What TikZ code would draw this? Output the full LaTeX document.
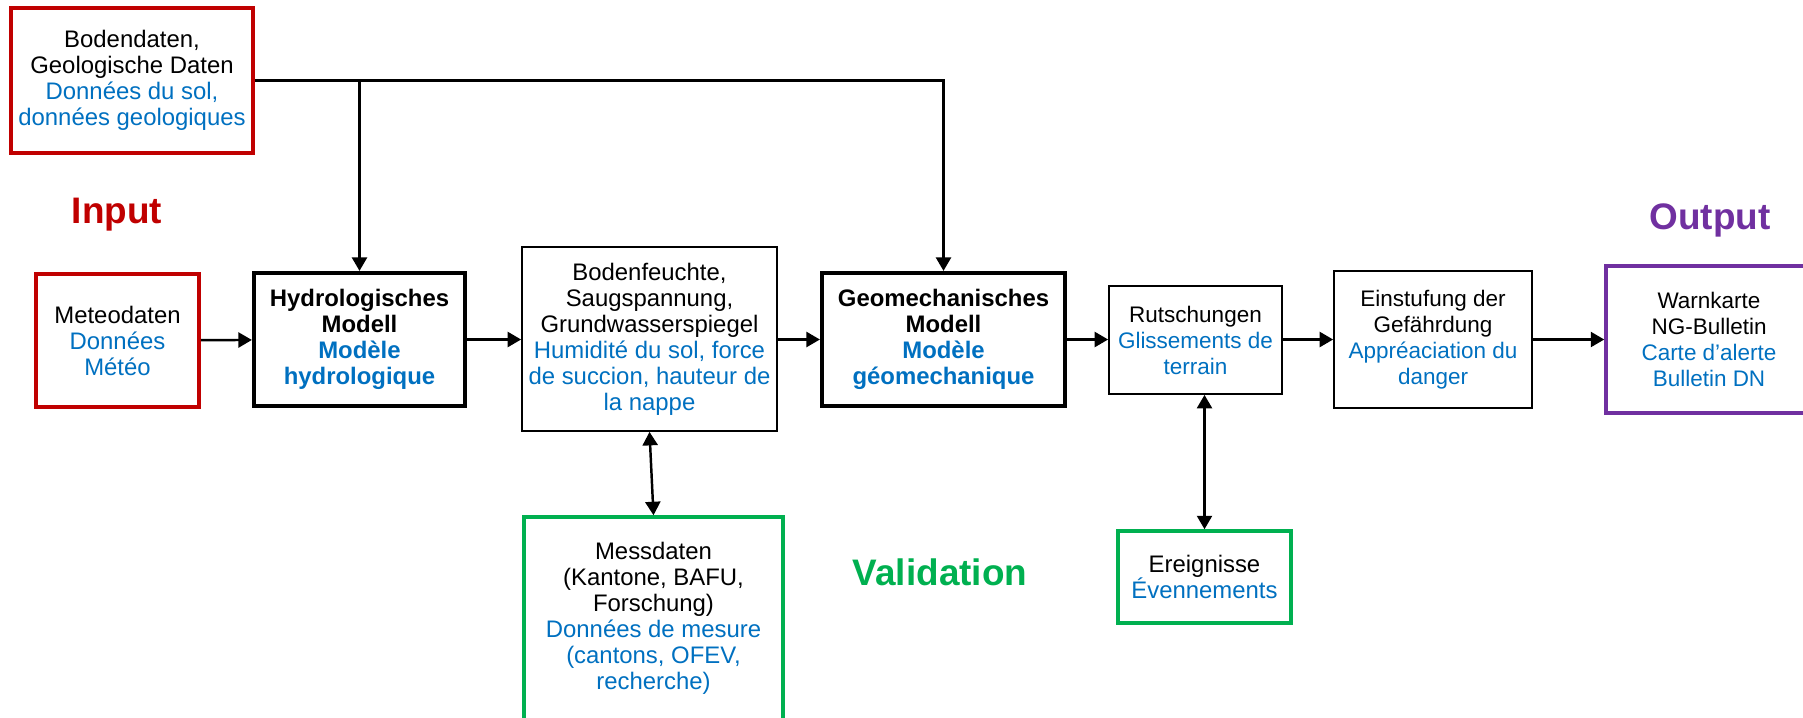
\documentclass[tikz,border=0pt]{standalone}
\usepackage{fontspec}
\setmainfont{Liberation Sans}
\usepackage{tikz}
\usetikzlibrary{arrows.meta,positioning}
\definecolor{inred}{HTML}{C00000}
\definecolor{frblue}{HTML}{0070C0}
\definecolor{valgreen}{HTML}{00B050}
\definecolor{outpurple}{HTML}{7030A0}

\begin{document}
\begin{tikzpicture}[
		box/.style={rectangle, draw, line width=1pt, align=center, inner sep=1pt, font=\fontsize{13.6}{14.8}\selectfont},
		smallbox/.style={box, font=\fontsize{12.8}{14.8}\selectfont},
		inbox/.style={box, draw=inred, line width=2pt},
		modell/.style={box, line width=2.4pt, font=\fontsize{13.6}{14.8}\selectfont\bfseries},
		valbox/.style={box, draw=valgreen, line width=2pt},
		outbox/.style={smallbox, draw=outpurple, line width=2pt},
		titel/.style={font=\fontsize{21}{25}\selectfont\bfseries},
		->, >={Triangle[length=0.27cm,width=0.30cm]}, line width=1.4pt
		]
	
		\useasboundingbox (0,0) rectangle (36.06,-14.34);
	
		% Eingaben
		\node[inbox, minimum width=4.84cm, minimum height=2.90cm] (boden) at (2.64,-1.61) {Bodendaten,\\Geologische Daten\\\color{frblue}Données du sol,\\\color{frblue}données geologiques};
		\node[titel, text=inred] (input) at (2.34,-4.30) {Input};
		\node[inbox, minimum width=3.26cm, minimum height=2.66cm] (meteo) at (2.35,-6.81) {Meteodaten\\\color{frblue}Données\\\color{frblue}Météo};
	
		% Modellkette
		\node[modell, minimum width=4.22cm, minimum height=2.66cm] (hydro) at (7.19,-6.79) {Hydrologisches\\Modell\\\color{frblue}Modèle\\\color{frblue}hydrologique};
		\node[box, minimum width=5.10cm, minimum height=3.68cm] (feuchte) at (12.99,-6.78) {Bodenfeuchte,\\Saugspannung,\\Grundwasserspiegel\\\color{frblue}Humidité du sol, force\\\color{frblue}de succion, hauteur de\\\color{frblue}la nappe};
		\node[modell, minimum width=4.86cm, minimum height=2.66cm] (geo) at (18.87,-6.79) {Geomechanisches\\Modell\\\color{frblue}Modèle\\\color{frblue}géomechanique};
		\node[smallbox, minimum width=3.46cm, minimum height=2.16cm] (rutsch) at (23.91,-6.80) {Rutschungen\\\color{frblue}Glissements de\\\color{frblue}terrain};
		\node[smallbox, minimum width=3.96cm, minimum height=2.74cm] (einst) at (28.66,-6.79) {Einstufung der\\Gefährdung\\\color{frblue}Appréaciation du\\\color{frblue}danger};
	
		% Ausgabe
		\node[titel, text=outpurple] (output) at (34.20,-4.40) {Output};
		\node[outbox, minimum width=4.12cm, minimum height=2.94cm] (warn) at (34.18,-6.79) {Warnkarte\\NG-Bulletin\\\color{frblue}Carte d’alerte\\\color{frblue}Bulletin DN};
	
		% Validierung
		\node[valbox, minimum width=5.18cm, minimum height=4.06cm] (mess) at (13.07,-12.37) {Messdaten\\(Kantone, BAFU,\\Forschung)\\\color{frblue}Données de mesure\\\color{frblue}(cantons, OFEV,\\\color{frblue}recherche)};
		\node[titel, text=valgreen] (valid) at (18.80,-11.44) {Validation};
		\node[valbox, minimum width=3.46cm, minimum height=1.84cm] (ereig) at (24.09,-11.54) {Ereignisse\\\color{frblue}Évennements};
	
		\coordinate (split) at (hydro.north |- boden.east);
	
		\draw (boden.east) -| (geo.north);
		\draw (split) -- (hydro.north);
		\draw (meteo) -- (hydro);
		\draw (hydro) -- (feuchte.west |- hydro.east);
		\draw (feuchte.east |- geo.west) -- (geo);
		\draw (geo) -- (rutsch.west |- geo.east);
		\draw (rutsch.east |- einst.west) -- (einst);
		\draw (einst) -- (warn.west |- einst.east);
		\draw[<->] (feuchte.south) -- (mess.north);
		\draw[<->] (ereig.north |- rutsch.south) -- (ereig.north);
	\end{tikzpicture}
\end{document}
